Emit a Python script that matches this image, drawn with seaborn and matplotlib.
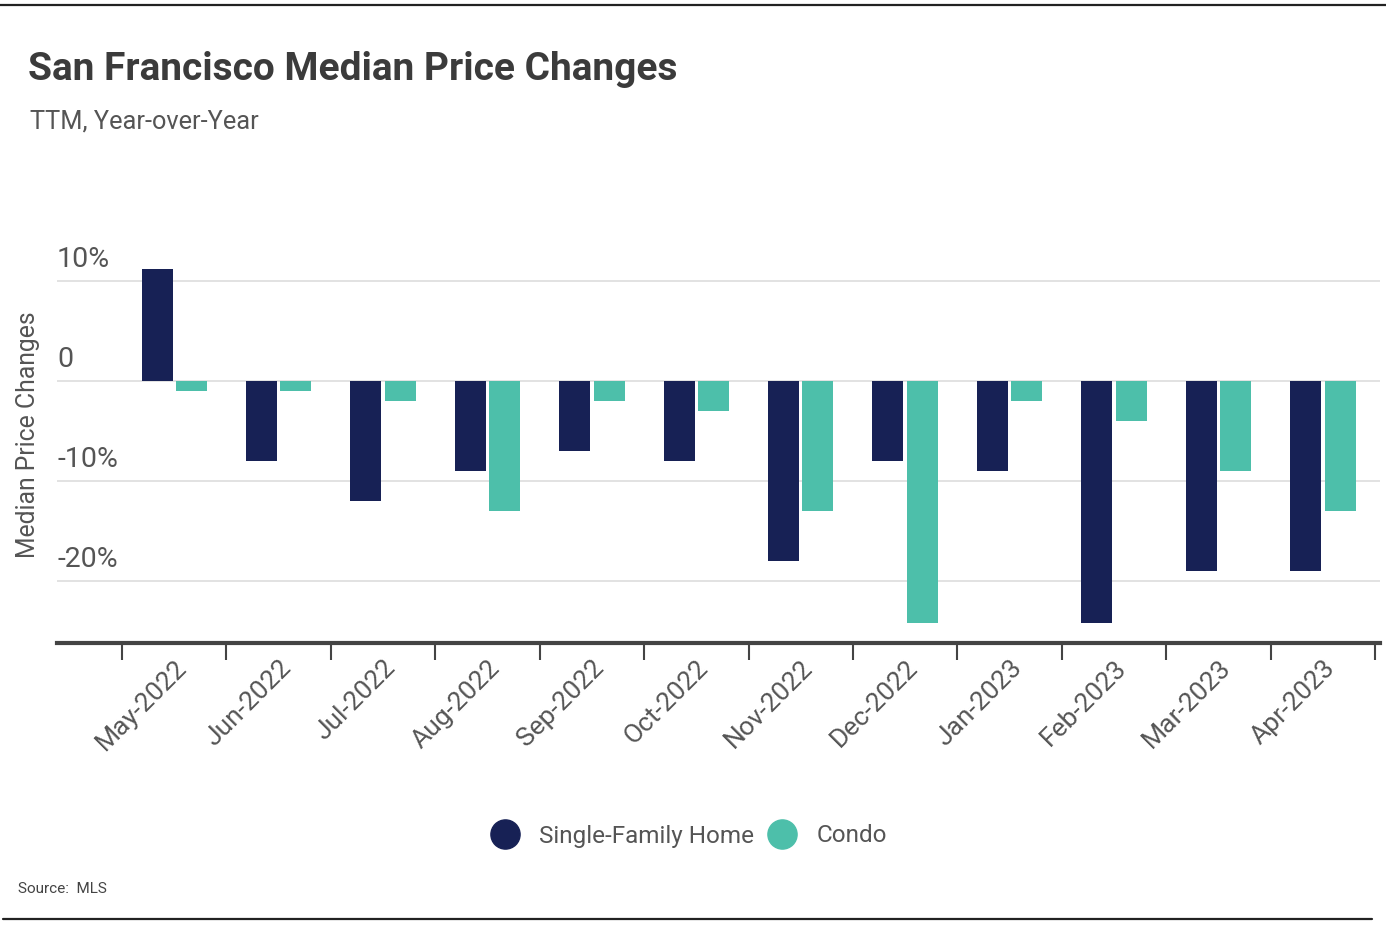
import pandas as pd
import matplotlib.pyplot as plt
import seaborn as sns
from matplotlib.lines import Line2D

# Du lieu
months = ['May-2022', 'Jun-2022', 'Jul-2022', 'Aug-2022', 'Sep-2022', 'Oct-2022',
          'Nov-2022', 'Dec-2022', 'Jan-2023', 'Feb-2023', 'Mar-2023', 'Apr-2023']
sfh_change = [11.2, -8, -12, -9, -7, -8, -18, -8, -9, -24.2, -19, -19]
condo_change = [-1, -1, -2, -13, -2, -3, -13, -24.2, -2, -4, -9, -13]
series_names = ['Single-Family Home', 'Condo']
y_ticks = [10, 0, -10, -20]

NAVY = '#172155'
TEAL = '#4dbfaa'
TEXT = '#555555'

sns.set_style("white")
plt.rcParams['font.family'] = ['Roboto', 'DejaVu Sans']

df = pd.DataFrame({
    'month': months * 2,
    'change': sfh_change + condo_change,
    'type': [series_names[0]] * len(months) + [series_names[1]] * len(months),
})

fig = plt.figure(figsize=(13.86, 9.32), dpi=100)
ax = fig.add_axes([57 / 1386, 1 - 643 / 932, (1380 - 57) / 1386, (643 - 261) / 932])

sns.barplot(data=df, x='month', y='change', hue='type', order=months,
            hue_order=series_names, palette=[NAVY, TEAL], saturation=1,
            width=0.66, gap=0.1, linewidth=0, ax=ax, legend=False)

ax.set_xlim(-1.123, 11.548)
ax.set_ylim(-26.2, 12)

# grid
for v in y_ticks:
    ax.axhline(v, color='#dddddd', linewidth=1.2, zorder=0)
    lab = '0' if v == 0 else f'{v}%'
    ax.annotate(lab, xy=(0, v), xycoords=ax.get_yaxis_transform(),
                xytext=(0, 6), textcoords='offset points',
                ha='left', va='bottom', fontsize=20.5, color=TEXT)
ax.set_yticks([])

# truc x: vach o ranh gioi, nhan o giua
ax.set_xticks([i - 0.5 for i in range(len(months) + 1)])
ax.set_xticklabels([])
ax.set_xticks(range(len(months)), minor=True)
ax.set_xticklabels(months, minor=True, rotation=45, ha='right',
                   rotation_mode='anchor', fontsize=19, color=TEXT)
ax.tick_params(axis='x', which='major', bottom=True, length=12, width=1.5,
               color='#444444', direction='out')
ax.tick_params(axis='x', which='minor', bottom=True, length=0, pad=9)

for s in ['top', 'right', 'left']:
    ax.spines[s].set_visible(False)
ax.spines['bottom'].set_color('#444444')
ax.spines['bottom'].set_linewidth(3)
ax.set_xlabel('')
ax.set_ylabel('Median Price Changes', fontsize=17.8, color=TEXT)
ax.yaxis.set_label_coords(-0.013, 0.545)

# tieu de
fig.text(28 / 1386, 1 - 70 / 932, 'San Francisco Median Price Changes', fontsize=28,
         fontweight='bold', color='#3b3b3b', ha='left', va='center')
fig.text(30 / 1386, 1 - 122 / 932, 'TTM, Year-over-Year', fontsize=18.3,
         color=TEXT, ha='left', va='center')
fig.text(18 / 1386, 1 - 889 / 932, 'Source:  MLS', fontsize=11,
         color='#444444', ha='left', va='center')

# chu thich
handles = [Line2D([], [], marker='o', linestyle='', markersize=21, color=c)
           for c in [NAVY, TEAL]]
leg = fig.legend(handles, series_names, loc='center', ncol=2,
                 bbox_to_anchor=(684 / 1386, 1 - 836 / 932), frameon=False,
                 fontsize=17.5, handletextpad=0.4, columnspacing=0.15)
for t in leg.get_texts():
    t.set_color(TEXT)

# duong ke tren/duoi
fig.add_artist(Line2D([0, 1], [1 - 5 / 932, 1 - 5 / 932], color='#222222', linewidth=1.6))
fig.add_artist(Line2D([3 / 1386, 1372 / 1386], [1 - 919 / 932, 1 - 919 / 932],
                      color='#222222', linewidth=1.6))

plt.savefig('out.png', dpi=100)
plt.close()
